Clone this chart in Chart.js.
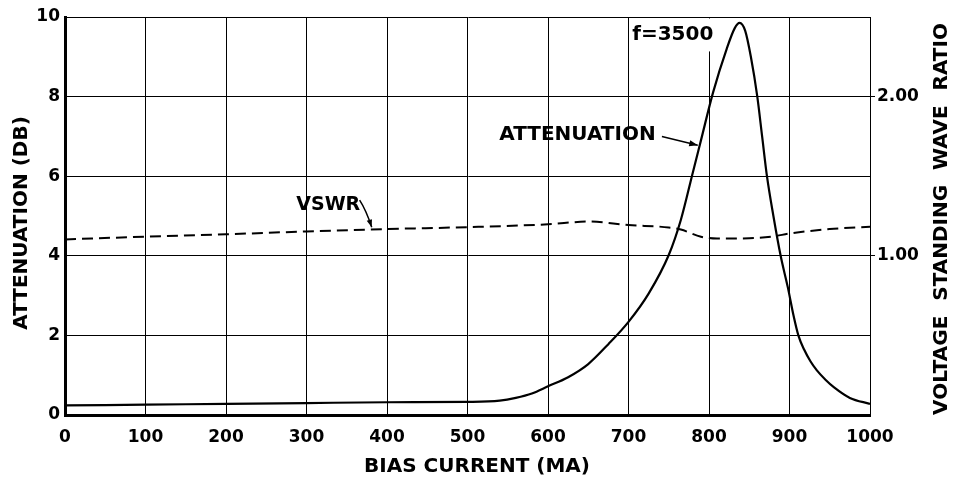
<!DOCTYPE html>
<html>
<head>
<meta charset="utf-8">
<script src="https://cdn.jsdelivr.net/npm/chart.js@4"></script>
<style>
  html, body { margin: 0; padding: 0; background: #fff; }
  canvas { display: block; }
</style>
</head>
<body>
<canvas id="c" width="959" height="483"></canvas>
<script>
// Bias current (mA) sample points for the attenuation curve and its values (dB)
const biasCurrent = [0, 100, 200, 300, 400, 500, 540, 560, 580, 600, 625, 650, 675, 700, 725, 750, 765, 780, 790, 805, 822, 832, 838, 845, 852, 860, 866, 872, 880, 889, 898, 905, 911, 918, 926, 934, 945, 955, 975, 1000];
const attenuationDb = [0.24, 0.26, 0.28, 0.30, 0.32, 0.33, 0.36, 0.43, 0.54, 0.72, 0.95, 1.28, 1.78, 2.34, 3.05, 4.02, 4.9, 6.1, 6.9, 8.1, 9.2, 9.72, 9.85, 9.65, 9.0, 8.0, 7.0, 6.0, 5.0, 4.0, 3.2, 2.5, 2.0, 1.65, 1.35, 1.12, 0.88, 0.7, 0.43, 0.28];

// Bias current (mA) sample points for the VSWR curve and its values
const vswrCurrent = [0, 100, 200, 300, 400, 500, 600, 650, 700, 750, 765, 790, 810, 850, 880, 900, 950, 1000];
const vswrRatio = [1.103, 1.12, 1.135, 1.153, 1.168, 1.18, 1.198, 1.215, 1.193, 1.178, 1.165, 1.12, 1.108, 1.11, 1.122, 1.14, 1.168, 1.183];

// Axis tick values
const attenuationTicks = [0, 2, 4, 6, 8, 10];
const vswrTicks = [1, 2];
const currentTicks = [0, 100, 200, 300, 400, 500, 600, 700, 800, 900, 1000];

const FONT = '"DejaVu Sans", sans-serif';
const INK = '#000';

function arrow(ctx, pts, head) {
  ctx.beginPath();
  ctx.moveTo(pts[0][0], pts[0][1]);
  if (pts.length === 3) ctx.quadraticCurveTo(pts[1][0], pts[1][1], pts[2][0], pts[2][1]);
  else ctx.lineTo(pts[1][0], pts[1][1]);
  ctx.stroke();
  const a = pts[pts.length - 1], b = pts[pts.length - 2];
  const ang = Math.atan2(a[1] - b[1], a[0] - b[0]);
  ctx.beginPath();
  ctx.moveTo(a[0], a[1]);
  ctx.lineTo(a[0] - head * Math.cos(ang - 0.35), a[1] - head * Math.sin(ang - 0.35));
  ctx.lineTo(a[0] - head * Math.cos(ang + 0.35), a[1] - head * Math.sin(ang + 0.35));
  ctx.closePath();
  ctx.fill();
}

const labels = {
  id: 'labels',
  beforeDatasetsDraw(chart) {
    // clear the grid behind the frequency note
    const { ctx, scales: { x, y }, chartArea } = chart;
    ctx.save();
    ctx.font = 'bold 20px ' + FONT;
    const w = ctx.measureText('f=3500').width;
    const cx = x.getPixelForValue(755), cy = y.getPixelForValue(9.55);
    ctx.fillStyle = '#fff';
    ctx.fillRect(cx - w / 2 - 2, chartArea.top + 1.5, w + 8, cy + 15 - chartArea.top);
    ctx.restore();
  },
  afterDatasetsDraw(chart) {
    const { ctx, scales: { x, y } } = chart;
    const P = (vx, vy) => [x.getPixelForValue(vx), y.getPixelForValue(vy)];
    ctx.save();
    ctx.fillStyle = INK;
    ctx.strokeStyle = INK;
    ctx.lineWidth = 1.5;
    ctx.textAlign = 'center';
    ctx.textBaseline = 'middle';
    ctx.font = 'bold 20px ' + FONT;
    let p = P(755, 9.55);
    ctx.fillText('f=3500', p[0], p[1]);
    p = P(636.6, 7.03);
    ctx.fillText('ATTENUATION', p[0], p[1]);
    arrow(ctx, [P(741.5, 7.0), P(786, 6.78)], 9);
    ctx.font = 'bold 19px ' + FONT;
    p = P(327, 5.28);
    ctx.fillText('VSWR', p[0], p[1]);
    arrow(ctx, [P(366, 5.4), P(374, 5.15), P(381, 4.72)], 8);
    ctx.restore();
  },
  afterDraw(chart) {
    const { ctx } = chart;
    ctx.save();
    ctx.fillStyle = INK;
    ctx.textAlign = 'center';
    ctx.textBaseline = 'middle';
    ctx.font = 'bold 20px ' + FONT;
    // bottom axis title
    ctx.fillText('BIAS CURRENT (MA)', 477, 467);
    // left axis title
    ctx.save();
    ctx.translate(22, 223);
    ctx.rotate(-Math.PI / 2);
    ctx.fillText('ATTENUATION (DB)', 0, 0);
    ctx.restore();
    // right axis title
    ctx.save();
    ctx.translate(942, 219);
    ctx.rotate(-Math.PI / 2);
    ctx.wordSpacing = '8px';
    ctx.fillText('VOLTAGE STANDING WAVE RATIO', 0, 0);
    ctx.restore();
    ctx.restore();
  }
};

const fixTicks = values => scale => { scale.ticks = values.map(v => ({ value: v })); };
const tickFont = { family: FONT, size: 17, weight: 'bold' };

new Chart(document.getElementById('c'), {
  type: 'line',
  data: {
    datasets: [
      {
        label: 'Attenuation',
        data: biasCurrent.map((v, i) => ({ x: v, y: attenuationDb[i] })),
        yAxisID: 'y',
        borderColor: INK,
        borderWidth: 2.2,
        pointRadius: 0,
        cubicInterpolationMode: 'monotone',
        fill: false
      },
      {
        label: 'VSWR',
        data: vswrCurrent.map((v, i) => ({ x: v, y: vswrRatio[i] })),
        yAxisID: 'y1',
        borderColor: INK,
        borderWidth: 2,
        borderDash: [11, 6],
        pointRadius: 0,
        cubicInterpolationMode: 'monotone',
        fill: false
      }
    ]
  },
  options: {
    responsive: false,
    animation: false,
    devicePixelRatio: 1,
    layout: { padding: { top: 17, left: 0, right: 0, bottom: 0 } },
    plugins: { legend: { display: false }, tooltip: { enabled: false } },
    scales: {
      x: {
        type: 'linear',
        min: 0, max: 1000,
        afterBuildTicks: fixTicks(currentTicks),
        afterFit: s => { s.height = 68; },
        ticks: { color: INK, font: tickFont, padding: 12, maxRotation: 0, autoSkip: false, callback: v => String(v) },
        grid: { color: INK, lineWidth: 1, drawTicks: false },
        border: { color: INK, width: 3 }
      },
      y: {
        position: 'left',
        min: 0, max: 10,
        afterBuildTicks: fixTicks(attenuationTicks),
        afterFit: s => { s.width = 65; },
        ticks: { color: INK, font: tickFont, padding: 5, callback: v => String(v) },
        grid: { color: INK, lineWidth: 1, drawTicks: false },
        border: { color: INK, width: 3 }
      },
      y1: {
        position: 'right',
        min: 0, max: 2.5,
        afterBuildTicks: fixTicks(vswrTicks),
        afterFit: s => { s.width = 89; },
        ticks: { color: INK, font: tickFont, padding: 2, callback: v => v.toFixed(2) },
        grid: { color: INK, lineWidth: 1, drawOnChartArea: false, tickLength: 5 },
        border: { color: INK, width: 1 }
      }
    }
  },
  plugins: [labels]
});
</script>
</body>
</html>
